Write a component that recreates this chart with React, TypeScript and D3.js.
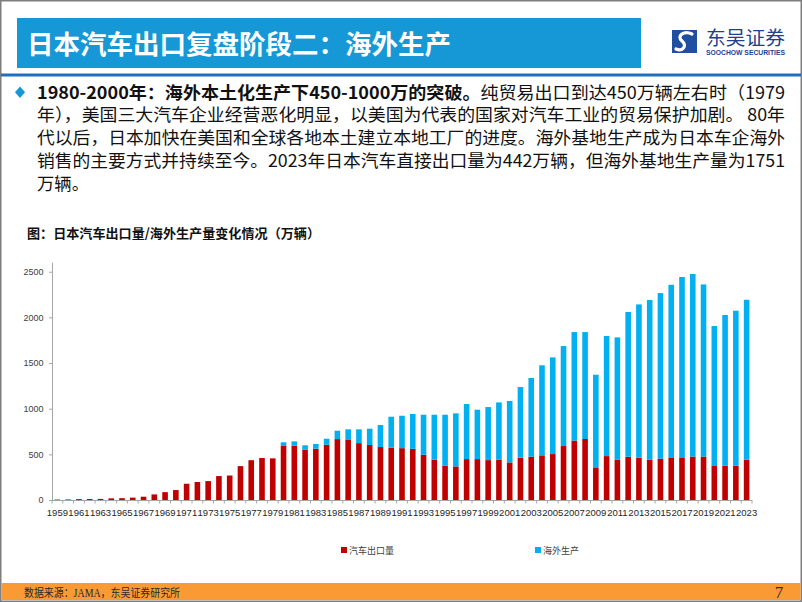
import React from "react";
import * as d3 from "d3";

const years: number[] = [
  1959, 1960, 1961, 1962, 1963, 1964, 1965, 1966, 1967, 1968, 1969, 1970, 1971, 1972, 1973,
  1974, 1975, 1976, 1977, 1978, 1979, 1980, 1981, 1982, 1983, 1984, 1985, 1986, 1987, 1988,
  1989, 1990, 1991, 1992, 1993, 1994, 1995, 1996, 1997, 1998, 1999, 2000, 2001, 2002, 2003,
  2004, 2005, 2006, 2007, 2008, 2009, 2010, 2011, 2012, 2013, 2014, 2015, 2016, 2017, 2018,
  2019, 2020, 2021, 2022, 2023,
];

// 汽车出口量 (万辆)
const exportsVol: number[] = [
  5, 6, 10, 11, 12, 18, 20, 26, 36, 61, 86, 109, 178, 197, 207,
  262, 268, 371, 436, 460, 456, 592, 595, 552, 562, 605, 667, 657, 623, 602,
  580, 573, 568, 561, 496, 441, 375, 368, 448, 448, 437, 441, 412, 463, 474,
  489, 503, 591, 651, 668, 357, 481, 443, 474, 463, 443, 453, 460, 467, 476,
  476, 372, 377, 377, 442,
];

// 海外生产 (万辆)
const overseasVol: number[] = [
  0, 0, 0, 0, 0, 0, 0, 0, 0, 0, 0, 0, 0, 0, 0,
  0, 0, 0, 0, 0, 0, 40, 47, 47, 51, 66, 92, 117, 151, 179,
  241, 339, 355, 381, 438, 493, 559, 581, 603, 541, 581, 628, 672, 774, 862,
  986, 1059, 1095, 1188, 1171, 1015, 1315, 1338, 1585, 1679, 1747, 1813, 1897, 1975, 1999,
  1885, 1533, 1649, 1696, 1751,
];

const seriesNames: string[] = ["汽车出口量", "海外生产"];
const seriesColors: string[] = ["#c00000", "#00b0f0"];
const yTicks: number[] = [0, 500, 1000, 1500, 2000, 2500];

const titleText = "日本汽车出口复盘阶段二：海外生产";
const chartTitle = "图：日本汽车出口量/海外生产量变化情况（万辆）";
const bodyLines: { bold?: string; text: string; width: number }[] = [
  { bold: "1980-2000年：海外本土化生产下450-1000万的突破。", text: "纯贸易出口到达450万辆左右时（1979", width: 748 },
  { text: "年），美国三大汽车企业经营恶化明显，以美国为代表的国家对汽车工业的贸易保护加剧。 80年", width: 748 },
  { text: "代以后，日本加快在美国和全球各地本土建立本地工厂的进度。海外基地生产成为日本车企海外", width: 748 },
  { text: "销售的主要方式并持续至今。2023年日本汽车直接出口量为442万辆，但海外基地生产量为1751", width: 748 },
  { text: "万辆。", width: 52 },
];
const sourceText = "数据来源：JAMA，东吴证券研究所";

const CJK = "'Noto Sans CJK SC', 'Noto Sans', sans-serif";

export default function App() {
  const W = 802;
  const H = 602;
  const plotLeft = 52;
  const plotRight = 752;
  const plotBottom = 500;
  const plotTop = 262.6;

  const x = d3
    .scaleBand<number>()
    .domain(years)
    .range([plotLeft, plotRight])
    .paddingInner(0.48)
    .paddingOuter(0.24);
  const y = d3.scaleLinear().domain([0, 2600]).range([plotBottom, plotTop]);

  const table = years.map((yr, i) => ({ year: yr, a: exportsVol[i], b: overseasVol[i] }));
  const stacked = d3.stack<any>().keys(["a", "b"])(table);

  const step = x.step();
  const boundaries = d3.range(years.length + 1).map((i) => plotLeft + i * step);

  return (
    <div style={{ position: "absolute", left: 0, top: 0 }}>
      <svg width={W} height={H} viewBox={`0 0 ${W} ${H}`} style={{ display: "block", background: "#fff" }}>
        {/* frame */}
        <rect x={0.75} y={0.75} width={W - 1.5} height={H - 1.5} fill="#fff" stroke="#7f7f7f" strokeWidth={1.5} />
        {/* title */}
        <rect x={17} y={18} width={624} height={50} fill="#1798d6" />
        <text x={27} y={53.5} fontFamily={CJK} fontWeight="bold" fontSize={26} fill="#fff" textLength={424} lengthAdjust="spacingAndGlyphs">
          {titleText}
        </text>
        {/* logo */}
        <g>
          <rect x={672} y={30} width={25} height={23} fill="#1f4f9e" />
          <path d="M692,34 C684,30 676,36 682,41 C688,46 682,52 676,49" fill="none" stroke="#fff" strokeWidth={3.2} strokeLinecap="round" />
          <text x={706} y={45} fontFamily={CJK} fontSize={19} fill="#1f3f8f" textLength={79} lengthAdjust="spacingAndGlyphs">东吴证券</text>
          <text x={706} y={54.5} fontFamily="'Liberation Sans', Arial, sans-serif" fontWeight="bold" fontSize={6.5} fill="#1f3f8f" textLength={79} lengthAdjust="spacingAndGlyphs">SOOCHOW SECURITIES</text>
        </g>
        {/* blue rule */}
        <rect x={1} y={73.5} width={W - 2} height={3} fill="#1f6fc0" />
        {/* bullet */}
        <path d="M20,86.5 L25,92.3 L20,98 L15,92.3 Z" fill="#1798d6" />
        {bodyLines.map((ln, i) => (
          <text key={i} x={37} y={98.5 + i * 22.8} fontFamily={CJK} fontSize={17.5} fill="#111" textLength={ln.width} lengthAdjust="spacingAndGlyphs">
            {ln.bold ? <tspan fontWeight="bold">{ln.bold}</tspan> : null}
            <tspan>{ln.text}</tspan>
          </text>
        ))}
        {/* chart title */}
        <text x={27} y={237.5} fontFamily={CJK} fontWeight="bold" fontSize={13} fill="#111" textLength={293} lengthAdjust="spacingAndGlyphs">
          {chartTitle}
        </text>

        {/* bars */}
        {stacked.map((s, si) => (
          <g key={si} fill={seriesColors[si]}>
            {s.map((d: any, i: number) => {
              const h = y(d[0]) - y(d[1]);
              if (h <= 0) return null;
              return <rect key={i} x={x(years[i])} y={y(d[1])} width={x.bandwidth()} height={h} />;
            })}
          </g>
        ))}

        {/* y axis */}
        <line x1={plotLeft + 0.5} x2={plotLeft + 0.5} y1={plotTop} y2={plotBottom} stroke="#a6a6a6" strokeWidth={1} />
        {yTicks.map((t) => (
          <g key={t}>
            <line x1={plotLeft - 3} x2={plotLeft} y1={y(t) + 0.5} y2={y(t) + 0.5} stroke="#a6a6a6" />
            <text x={43.5} y={y(t) + 3.2} textAnchor="end" fontFamily="'Liberation Sans', Arial, sans-serif" fontSize={9} fill="#404040">
              {t}
            </text>
          </g>
        ))}
        {/* x axis */}
        <line x1={plotLeft} x2={plotRight} y1={plotBottom + 0.5} y2={plotBottom + 0.5} stroke="#a6a6a6" strokeWidth={1} />
        {boundaries.map((bx, i) => (
          <line key={i} x1={bx} x2={bx} y1={plotBottom} y2={plotBottom + 3.5} stroke="#a6a6a6" />
        ))}
        {years.map((yr, i) =>
          i % 2 === 0 ? (
            <text key={yr} x={(x(yr) as number) + x.bandwidth() / 2} y={516} textAnchor="middle" fontFamily="'Liberation Sans', Arial, sans-serif" fontSize={9.5} fill="#262626">
              {yr}
            </text>
          ) : null
        )}

        {/* legend */}
        {seriesNames.map((n, i) => {
          const lx = i === 0 ? 341 : 535;
          return (
            <g key={n}>
              <rect x={lx} y={547} width={6} height={6} fill={seriesColors[i]} />
              <text x={lx + 8} y={553.5} fontFamily={CJK} fontSize={9} fill="#404040">
                {n}
              </text>
            </g>
          );
        })}

        {/* footer */}
        <rect x={1.5} y={583} width={W - 3} height={17} fill="#f99a34" />
        <text x={24} y={596.5} fontFamily="'Liberation Serif', 'Noto Sans CJK SC', serif" fontSize={11.5} fill="#2a2a2a" textLength={156} lengthAdjust="spacingAndGlyphs">
          {sourceText}
        </text>
        <text x={779} y={598} textAnchor="middle" fontFamily="'Liberation Serif', serif" fontSize={17} fill="#333">
          7
        </text>
      </svg>
    </div>
  );
}
